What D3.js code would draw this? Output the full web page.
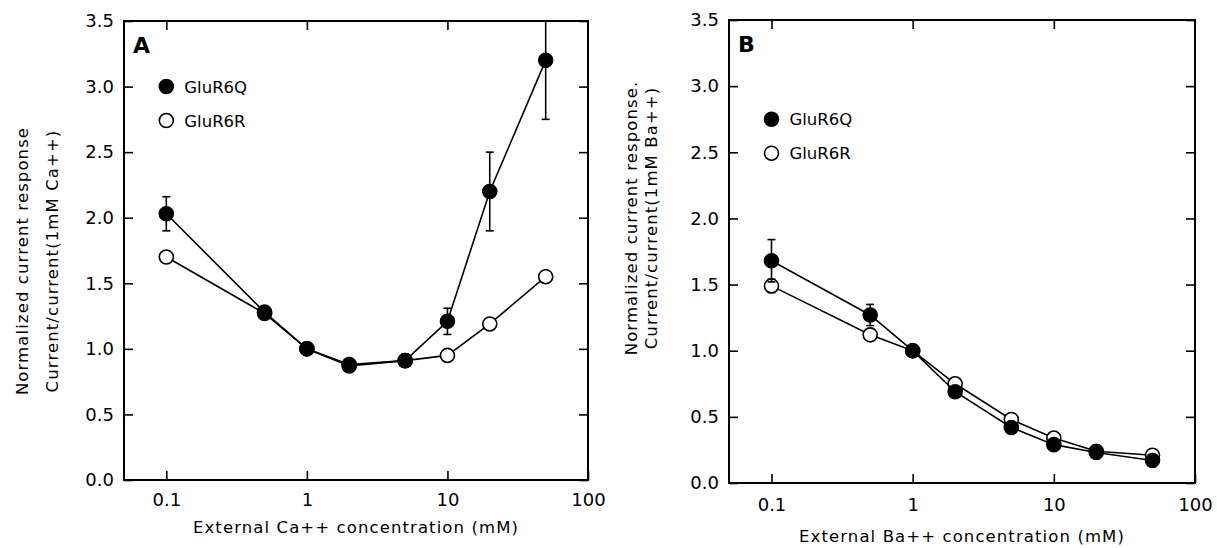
<!DOCTYPE html>
<html>
<head>
<meta charset="utf-8">
<script src="https://cdn.jsdelivr.net/npm/d3@7"></script>
<style>
  body { margin: 0; background: #fff; }
  svg text { font-family: "DejaVu Sans", sans-serif; fill: #000; }
  .tick text { font-size: 18px; }
  .titulo { font-size: 16.5px; letter-spacing: 1.1px; }
</style>
</head>
<body>
<svg width="1217" height="548"></svg>
<script>
// concentraciones externas (mM)
const concentrations = [0.1, 0.5, 1, 2, 5, 10, 20, 50];
const xTicks = [0.1, 1, 10, 100];
const yTicks = [0, 0.5, 1, 1.5, 2, 2.5, 3, 3.5];

// Panel A: Ca++
const caQ = [2.03, 1.28, 1.0, 0.87, 0.91, 1.21, 2.2, 3.2];
const caQErr = [0.13, 0.04, 0, 0.02, 0.05, 0.10, 0.3, 0.45];
const caR = [1.70, 1.27, 1.0, 0.88, 0.91, 0.95, 1.19, 1.55];
const caRErr = [0, 0, 0, 0, 0, 0, 0, 0];

// Panel B: Ba++
const baQ = [1.68, 1.27, 1.0, 0.69, 0.42, 0.29, 0.23, 0.17];
const baQErr = [0.16, 0.08, 0, 0, 0, 0, 0, 0];
const baR = [1.49, 1.12, 1.0, 0.75, 0.48, 0.34, 0.24, 0.21];
const baRErr = [0.05, 0.03, 0, 0, 0, 0, 0, 0];

const svg = d3.select("svg");

function panel(p) {
  const x = d3.scaleLog().domain([0.05, 100]).range([p.left, p.right]);
  const y = d3.scaleLinear().domain([0, 3.5]).range([p.bottom, p.top]);
  const g = svg.append("g");

  // recorte del area de dibujo
  g.append("clipPath").attr("id", "clip" + p.id)
    .append("rect")
    .attr("x", p.left).attr("y", p.top)
    .attr("width", p.right - p.left).attr("height", p.bottom - p.top);

  // ejes (marcas hacia adentro)
  const fmtX = d => d3.format("~g")(d);
  g.append("g").attr("transform", `translate(0,${p.bottom})`)
    .call(d3.axisBottom(x).tickValues(xTicks).tickFormat(fmtX).tickSize(-9).tickPadding(p.xPad));
  g.append("g").attr("transform", `translate(0,${p.top})`)
    .call(d3.axisTop(x).tickValues(xTicks.slice(0, 3)).tickFormat("").tickSize(-9));
  g.append("g").attr("transform", `translate(${p.left},0)`)
    .call(d3.axisLeft(y).tickValues(yTicks).tickFormat(d3.format(".1f")).tickSize(-9).tickPadding(10));
  g.append("g").attr("transform", `translate(${p.right},0)`)
    .call(d3.axisRight(y).tickValues(yTicks).tickFormat("").tickSize(-9));
  g.selectAll(".domain").remove();
  g.selectAll(".tick line").attr("stroke", "#000").attr("stroke-width", 1.6);
  g.selectAll(".tick text").attr("fill", "#000");

  // marco
  g.append("rect")
    .attr("x", p.left).attr("y", p.top)
    .attr("width", p.right - p.left).attr("height", p.bottom - p.top)
    .attr("fill", "none").attr("stroke", "#000").attr("stroke-width", 2);

  const plot = g.append("g").attr("clip-path", `url(#clip${p.id})`);
  const line = d3.line().x(d => x(d.c)).y(d => y(d.v));

  // serie abierta primero, rellena encima
  [[p.r, p.rErr, "#fff"], [p.q, p.qErr, "#000"]].forEach(([vals, errs, fill]) => {
    const pts = concentrations.map((c, i) => ({c, v: vals[i], e: errs[i]}));
    plot.append("path").datum(pts)
      .attr("d", line).attr("fill", "none")
      .attr("stroke", "#000").attr("stroke-width", 1.6);
    const eb = plot.selectAll(null).data(pts.filter(d => d.e > 0)).enter().append("g")
      .attr("stroke", "#000").attr("stroke-width", 1.6);
    eb.append("line")
      .attr("x1", d => x(d.c)).attr("x2", d => x(d.c))
      .attr("y1", d => y(d.v + d.e)).attr("y2", d => y(d.v - d.e));
    eb.append("line")
      .attr("x1", d => x(d.c) - 4).attr("x2", d => x(d.c) + 4)
      .attr("y1", d => y(d.v + d.e)).attr("y2", d => y(d.v + d.e));
    eb.append("line")
      .attr("x1", d => x(d.c) - 4).attr("x2", d => x(d.c) + 4)
      .attr("y1", d => y(d.v - d.e)).attr("y2", d => y(d.v - d.e));
    plot.selectAll(null).data(pts).enter().append("circle")
      .attr("cx", d => x(d.c)).attr("cy", d => y(d.v)).attr("r", 7)
      .attr("fill", fill).attr("stroke", "#000").attr("stroke-width", 1.6);
  });

  // letra del panel
  g.append("text")
    .attr("x", p.left + 9).attr("y", p.top + 32)
    .attr("font-size", 22).attr("font-weight", "bold")
    .text(p.id);

  // leyenda
  const ley = g.append("g");
  [["GluR6Q", "#000"], ["GluR6R", "#fff"]].forEach(([name, fill], i) => {
    const cy = y(p.legendY) + i * 34;
    ley.append("circle").attr("cx", x(0.1)).attr("cy", cy).attr("r", 7)
      .attr("fill", fill).attr("stroke", "#000").attr("stroke-width", 1.6);
    ley.append("text").attr("x", x(0.1) + 18).attr("y", cy + 6)
      .attr("font-size", 16.5).text(name);
  });

  // titulos de ejes
  g.append("text").attr("class", "titulo")
    .attr("x", (p.left + p.right) / 2).attr("y", p.xTitleY)
    .attr("text-anchor", "middle").text(p.xTitle);
  p.yTitle.forEach((t, i) => {
    g.append("text").attr("class", "titulo")
      .attr("transform", `translate(${p.yTitleX + i * p.yTitleGap},${p.yTitleMid}) rotate(-90)`)
      .attr("text-anchor", "middle").text(t);
  });
}

panel({
  id: "A", left: 124, right: 588, top: 21, bottom: 480, xPad: 13,
  q: caQ, qErr: caQErr, r: caR, rErr: caRErr, legendY: 3.0,
  xTitle: "External Ca++ concentration (mM)", xTitleY: 533,
  yTitle: ["Normalized current response", "Current/current(1mM Ca++)"],
  yTitleX: 28, yTitleMid: 261, yTitleGap: 30
});
panel({
  id: "B", left: 729, right: 1195, top: 20, bottom: 483, xPad: 15,
  q: baQ, qErr: baQErr, r: baR, rErr: baRErr, legendY: 2.75,
  xTitle: "External Ba++ concentration (mM)", xTitleY: 542,
  yTitle: ["Normalized current response.", "Current/current(1mM Ba++)"],
  yTitleX: 637, yTitleMid: 218, yTitleGap: 20
});
</script>
</body>
</html>
